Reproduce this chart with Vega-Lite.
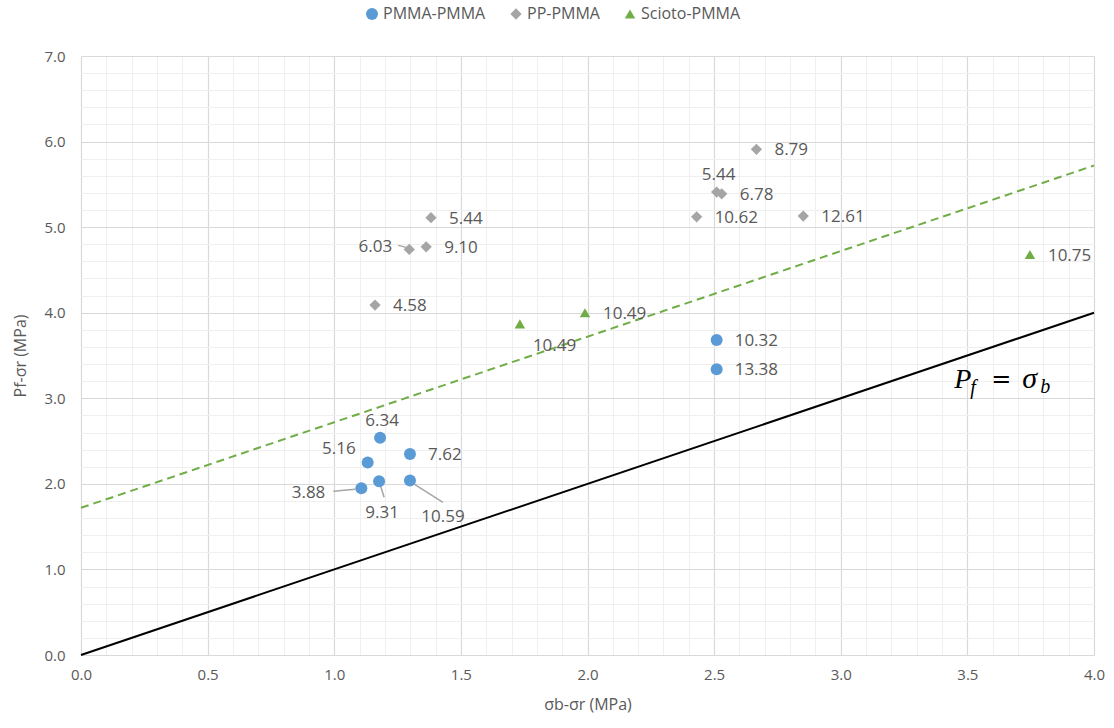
{
  "$schema": "https://vega.github.io/schema/vega-lite/v6.json",
  "width": 1013,
  "height": 599,
  "autosize": "none",
  "padding": {"left": 81, "top": 56, "right": 20, "bottom": 73},
  "background": "white",
  "config": {"font": "Open Sans", "view": {"stroke": null}},
  "datasets": {
    "pts": [
      {"series": "PMMA-PMMA", "x": 1.181, "y": 2.54, "lab": "6.34", "pos": "a"},
      {"series": "PMMA-PMMA", "x": 1.132, "y": 2.25, "lab": "5.16", "pos": "ul"},
      {"series": "PMMA-PMMA", "x": 1.299, "y": 2.35, "lab": "7.62", "pos": "r"},
      {"series": "PMMA-PMMA", "x": 1.107, "y": 1.95, "lab": "3.88", "pos": "l"},
      {"series": "PMMA-PMMA", "x": 1.177, "y": 2.03, "lab": "9.31", "pos": "b"},
      {"series": "PMMA-PMMA", "x": 1.299, "y": 2.04, "lab": "10.59", "pos": "br"},
      {"series": "PMMA-PMMA", "x": 2.51, "y": 3.68, "lab": "10.32", "pos": "r"},
      {"series": "PMMA-PMMA", "x": 2.51, "y": 3.34, "lab": "13.38", "pos": "r"},
      {"series": "PP-PMMA", "x": 1.382, "y": 5.11, "lab": "5.44", "pos": "r"},
      {"series": "PP-PMMA", "x": 1.296, "y": 4.74, "lab": "6.03", "pos": "l2"},
      {"series": "PP-PMMA", "x": 1.363, "y": 4.77, "lab": "9.10", "pos": "r"},
      {"series": "PP-PMMA", "x": 1.161, "y": 4.09, "lab": "4.58", "pos": "r"},
      {"series": "PP-PMMA", "x": 2.667, "y": 5.91, "lab": "8.79", "pos": "r"},
      {"series": "PP-PMMA", "x": 2.51, "y": 5.41, "lab": "5.44", "pos": "a"},
      {"series": "PP-PMMA", "x": 2.53, "y": 5.39, "lab": "6.78", "pos": "r"},
      {"series": "PP-PMMA", "x": 2.431, "y": 5.12, "lab": "10.62", "pos": "r"},
      {"series": "PP-PMMA", "x": 2.852, "y": 5.13, "lab": "12.61", "pos": "r"},
      {"series": "Scioto-PMMA", "x": 1.733, "y": 3.87, "lab": "10.49", "pos": "br2"},
      {"series": "Scioto-PMMA", "x": 1.99, "y": 4.0, "lab": "10.49", "pos": "r"},
      {"series": "Scioto-PMMA", "x": 3.747, "y": 4.68, "lab": "10.75", "pos": "r"}
    ],
    "equal": [{"x": 0, "y": 0}, {"x": 4, "y": 4}],
    "trend": [{"x": 0, "y": 1.72}, {"x": 4, "y": 5.72}],
    "note": [{"x": 3.44, "y": 3.117, "P": "P", "f": "f", "eq": "=", "s": "σ", "b": "b"}]
  },
  "resolve": {"axis": {"x": "independent", "y": "independent"}},
  "layer": [
    {
      "data": {"name": "equal"},
      "mark": {"type": "line", "color": "#000000", "strokeWidth": 2},
      "encoding": {
        "x": {"field": "x", "type": "quantitative", "scale": {"domain": [0, 4], "nice": false, "zero": false},
          "axis": {"orient": "top", "labels": false, "ticks": false, "domain": false, "title": null, "grid": true, "gridColor": "#efefef", "gridWidth": 1,
            "values": [0.1, 0.2, 0.3, 0.4, 0.6, 0.7, 0.8, 0.9, 1.1, 1.2, 1.3, 1.4, 1.6, 1.7, 1.8, 1.9, 2.1, 2.2, 2.3, 2.4, 2.6, 2.7, 2.8, 2.9, 3.1, 3.2, 3.3, 3.4, 3.6, 3.7, 3.8, 3.9]}},
        "y": {"field": "y", "type": "quantitative", "scale": {"domain": [0, 7], "nice": false, "zero": false},
          "axis": {"orient": "right", "labels": false, "ticks": false, "domain": false, "title": null, "grid": true, "gridColor": "#efefef", "gridWidth": 1,
            "values": [0.2, 0.4, 0.6, 0.8, 1.2, 1.4, 1.6, 1.8, 2.2, 2.4, 2.6, 2.8, 3.2, 3.4, 3.6, 3.8, 4.2, 4.4, 4.6, 4.8, 5.2, 5.4, 5.6, 5.8, 6.2, 6.4, 6.6, 6.8]}}
      }
    },
    {
      "encoding": {
        "x": {"field": "x", "type": "quantitative", "scale": {"domain": [0, 4], "nice": false, "zero": false},
          "axis": {"orient": "bottom", "values": [0, 0.5, 1, 1.5, 2, 2.5, 3, 3.5, 4], "format": ".1f", "ticks": false, "domain": false, "grid": true, "gridColor": "#d9d9d9", "gridWidth": 1.2,
            "labelFontSize": 15, "labelColor": "#595959", "labelPadding": 12, "labelFont": "Open Sans", "labelFlush": false, "labelOverlap": false,
            "title": "σb-σr (MPa)", "titleFontSize": 16, "titleColor": "#595959", "titleFontWeight": "normal", "titlePadding": 14, "titleFont": "Open Sans"}},
        "y": {"field": "y", "type": "quantitative", "scale": {"domain": [0, 7], "nice": false, "zero": false},
          "axis": {"orient": "left", "values": [0, 1, 2, 3, 4, 5, 6, 7], "format": ".1f", "ticks": false, "domain": false, "grid": true, "gridColor": "#d9d9d9", "gridWidth": 1.2,
            "labelFontSize": 15, "labelColor": "#595959", "labelPadding": 16, "labelFont": "Open Sans", "labelFlush": false, "labelOverlap": false,
            "title": "Pf-σr (MPa)", "titleFontSize": 16, "titleColor": "#595959", "titleFontWeight": "normal", "titlePadding": 15, "titleFont": "Open Sans"}}
      },
      "layer": [
        {
          "data": {"name": "trend"},
          "mark": {"type": "line", "color": "#70AD47", "strokeWidth": 2, "strokeDash": [8, 5]}
        },
        {
          "data": {"name": "pts"},
          "transform": [{"filter": "datum.pos === 'l'"}],
          "mark": {"type": "rule", "color": "#A5A5A5", "strokeWidth": 1.5, "xOffset": -6, "yOffset": 1, "x2Offset": -28, "y2Offset": 3},
          "encoding": {"x2": {"field": "x"}, "y2": {"field": "y"}}
        },
        {
          "data": {"name": "pts"},
          "transform": [{"filter": "datum.pos === 'b'"}],
          "mark": {"type": "rule", "color": "#A5A5A5", "strokeWidth": 1.5, "xOffset": 1, "yOffset": 3, "x2Offset": 5, "y2Offset": 16},
          "encoding": {"x2": {"field": "x"}, "y2": {"field": "y"}}
        },
        {
          "data": {"name": "pts"},
          "transform": [{"filter": "datum.pos === 'br'"}],
          "mark": {"type": "rule", "color": "#A5A5A5", "strokeWidth": 1.5, "xOffset": 3, "yOffset": 3, "x2Offset": 33, "y2Offset": 22},
          "encoding": {"x2": {"field": "x"}, "y2": {"field": "y"}}
        },
        {
          "data": {"name": "pts"},
          "transform": [{"filter": "datum.pos === 'l2'"}],
          "mark": {"type": "rule", "color": "#A5A5A5", "strokeWidth": 1.5, "xOffset": -11, "yOffset": -4, "x2Offset": -3, "y2Offset": -2},
          "encoding": {"x2": {"field": "x"}, "y2": {"field": "y"}}
        },
        {
          "data": {"name": "pts"},
          "mark": {"type": "point", "filled": true, "opacity": 1, "strokeWidth": 0},
          "encoding": {
            "color": {"field": "series", "type": "nominal", "scale": {"domain": ["PMMA-PMMA", "PP-PMMA", "Scioto-PMMA"], "range": ["#5B9BD5", "#A5A5A5", "#70AD47"]},
              "legend": {"orient": "none", "legendX": 283, "legendY": -50, "direction": "horizontal", "title": null, "labelFontSize": 16, "labelColor": "#595959", "labelFont": "Open Sans", "symbolSize": 100, "columnPadding": 22, "labelOffset": 3}},
            "shape": {"field": "series", "type": "nominal", "scale": {"domain": ["PMMA-PMMA", "PP-PMMA", "Scioto-PMMA"], "range": ["circle", "diamond", "triangle-up"]}},
            "size": {"field": "series", "type": "nominal", "scale": {"domain": ["PMMA-PMMA", "PP-PMMA", "Scioto-PMMA"], "range": [144, 110, 130]}, "legend": null}
          }
        },
        {
          "data": {"name": "pts"},
          "transform": [{"filter": "datum.pos === 'r'"}],
          "mark": {"type": "text", "align": "left", "baseline": "middle", "dx": 18, "dy": 1, "fontSize": 17, "color": "#595959"},
          "encoding": {"text": {"field": "lab"}}
        },
        {
          "data": {"name": "pts"},
          "transform": [{"filter": "datum.pos === 'a'"}],
          "mark": {"type": "text", "align": "center", "baseline": "middle", "dx": 2, "dy": -17, "fontSize": 17, "color": "#595959"},
          "encoding": {"text": {"field": "lab"}}
        },
        {
          "data": {"name": "pts"},
          "transform": [{"filter": "datum.pos === 'ul'"}],
          "mark": {"type": "text", "align": "right", "baseline": "middle", "dx": -12, "dy": -13, "fontSize": 17, "color": "#595959"},
          "encoding": {"text": {"field": "lab"}}
        },
        {
          "data": {"name": "pts"},
          "transform": [{"filter": "datum.pos === 'l'"}],
          "mark": {"type": "text", "align": "right", "baseline": "middle", "dx": -36, "dy": 5, "fontSize": 17, "color": "#595959"},
          "encoding": {"text": {"field": "lab"}}
        },
        {
          "data": {"name": "pts"},
          "transform": [{"filter": "datum.pos === 'l2'"}],
          "mark": {"type": "text", "align": "right", "baseline": "middle", "dx": -17, "dy": -2, "fontSize": 17, "color": "#595959"},
          "encoding": {"text": {"field": "lab"}}
        },
        {
          "data": {"name": "pts"},
          "transform": [{"filter": "datum.pos === 'b'"}],
          "mark": {"type": "text", "align": "center", "baseline": "middle", "dx": 3, "dy": 32, "fontSize": 17, "color": "#595959"},
          "encoding": {"text": {"field": "lab"}}
        },
        {
          "data": {"name": "pts"},
          "transform": [{"filter": "datum.pos === 'br'"}],
          "mark": {"type": "text", "align": "center", "baseline": "middle", "dx": 33, "dy": 37, "fontSize": 17, "color": "#595959"},
          "encoding": {"text": {"field": "lab"}}
        },
        {
          "data": {"name": "pts"},
          "transform": [{"filter": "datum.pos === 'br2'"}],
          "mark": {"type": "text", "align": "left", "baseline": "middle", "dx": 13, "dy": 22, "fontSize": 17, "color": "#595959"},
          "encoding": {"text": {"field": "lab"}}
        },
        {
          "data": {"name": "note"},
          "mark": {"type": "text", "align": "left", "baseline": "alphabetic", "font": "Liberation Serif", "fontStyle": "italic", "fontSize": 28, "color": "#000000", "dx": 2},
          "encoding": {"text": {"field": "P"}}
        },
        {
          "data": {"name": "note"},
          "mark": {"type": "text", "align": "left", "baseline": "alphabetic", "font": "Liberation Serif", "fontStyle": "italic", "fontSize": 20, "color": "#000000", "dx": 18, "dy": 6},
          "encoding": {"text": {"field": "f"}}
        },
        {
          "data": {"name": "note"},
          "mark": {"type": "text", "align": "left", "baseline": "alphabetic", "font": "DejaVu Serif", "fontSize": 24, "color": "#000000", "dx": 39, "dy": -1},
          "encoding": {"text": {"field": "eq"}}
        },
        {
          "data": {"name": "note"},
          "mark": {"type": "text", "align": "left", "baseline": "alphabetic", "font": "Liberation Serif", "fontStyle": "italic", "fontSize": 30, "color": "#000000", "dx": 70},
          "encoding": {"text": {"field": "s"}}
        },
        {
          "data": {"name": "note"},
          "mark": {"type": "text", "align": "left", "baseline": "alphabetic", "font": "Liberation Serif", "fontStyle": "italic", "fontSize": 20, "color": "#000000", "dx": 88, "dy": 5},
          "encoding": {"text": {"field": "b"}}
        }
      ]
    }
  ]
}
